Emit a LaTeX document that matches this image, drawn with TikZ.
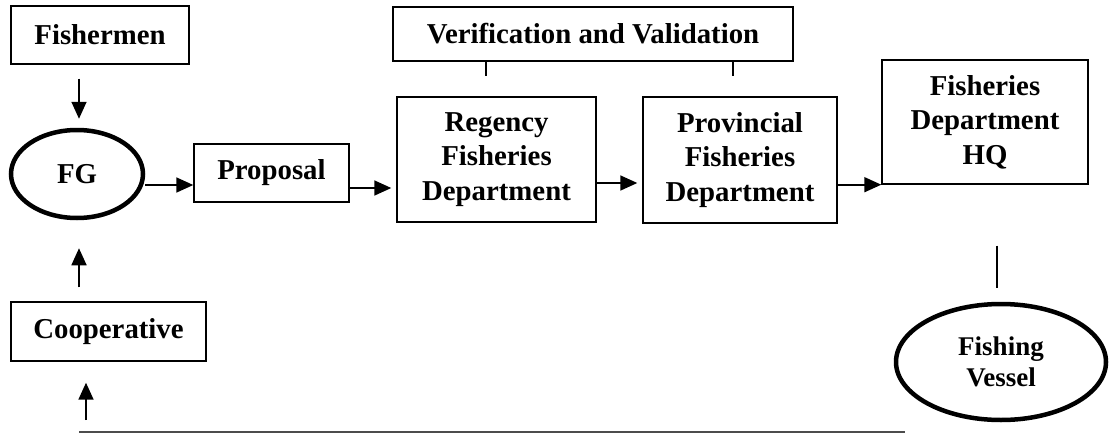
\documentclass[tikz,border=0pt]{standalone}
\usepackage{fontspec}
\setmainfont{Liberation Serif}
\usetikzlibrary{arrows.meta,shapes.geometric}
\begin{document}
\begin{tikzpicture}[x=1pt,y=1pt,
  box/.style={draw,line width=1.4pt,inner sep=0pt,align=center,
    font=\bfseries\fontsize{28.8}{34.5}\selectfont},
  oval/.style={draw,ellipse,line width=4.5pt,inner sep=0pt,align=center},
  arr/.style={line width=1.7pt,-{Triangle[length=17pt,width=15pt]}},
  tick/.style={line width=1.4pt}]
\useasboundingbox (0,0) rectangle (1109,-434);
\node[box,minimum width=178pt,minimum height=58pt] (fishermen) at (100,-35) {Fishermen};
\node[oval,minimum width=132pt,minimum height=88pt,font=\bfseries\fontsize{28.8}{34.5}\selectfont] (fg) at (77,-174) {FG};
\node[box,minimum width=155pt,minimum height=58pt] (proposal) at (271.5,-173) {Proposal};
\node[box,minimum width=199pt,minimum height=125pt] (regency) at (496.5,-159.5) {Regency\\Fisheries\\Department};
\node[box,minimum width=194pt,minimum height=126pt] (provincial) at (740,-160) {Provincial\\Fisheries\\Department};
\node[box,minimum width=206pt,minimum height=124pt] (hq) at (985,-122) {Fisheries\\Department\\HQ};
\node[box,minimum width=400pt,minimum height=54pt] (verif) at (593,-34) {Verification and Validation};
\node[box,minimum width=195pt,minimum height=59pt] (coop) at (108.5,-331.5) {Cooperative};
\node[oval,minimum width=210pt,minimum height=116pt,font=\bfseries\fontsize{27}{31}\selectfont] (vessel) at (1001,-362) {Fishing\\Vessel};
\coordinate (base) at (79,-432);
\coordinate (baseend) at (905,-432);
\coordinate (coopin) at (86,-420);
% connectors
\draw[arr,shorten <=14pt,shorten >=9pt] ([xshift=2pt]fishermen.south -| fg.north) -- ([xshift=2pt]fg.north);
\draw[arr,shorten <=14pt,shorten >=28pt] ([xshift=2pt]coop.north -| fg.south) -- ([xshift=2pt]fg.south);
\draw[arr,shorten >=21pt] (coopin) -- (coopin |- coop.south);
\draw[arr] ([yshift=-11pt]fg.east) -- ([yshift=-11pt]fg.east -| proposal.west);
\draw[arr,shorten >=5pt] ([yshift=-15pt]proposal.east) -- ([yshift=-15pt]proposal.east -| regency.west);
\draw[arr,shorten >=5pt] ([yshift=-23.5pt]regency.east) -- ([yshift=-23.5pt]regency.east -| provincial.west);
\draw[arr] (provincial.east |- hq.south) -- (hq.south west);
\draw[tick,shorten >=20pt] ([xshift=-10.5pt]regency.north |- verif.south) -- ([xshift=-10.5pt]regency.north);
\draw[tick,shorten >=20pt] ([xshift=-7pt]provincial.north |- verif.south) -- ([xshift=-7pt]provincial.north);
\draw[tick,shorten <=61pt,shorten >=14pt] ([xshift=-4pt]vessel.north |- hq.south) -- ([xshift=-4pt]vessel.north);
\draw[line width=1.3pt,black!70] (base) -- (baseend);
\end{tikzpicture}
\end{document}
